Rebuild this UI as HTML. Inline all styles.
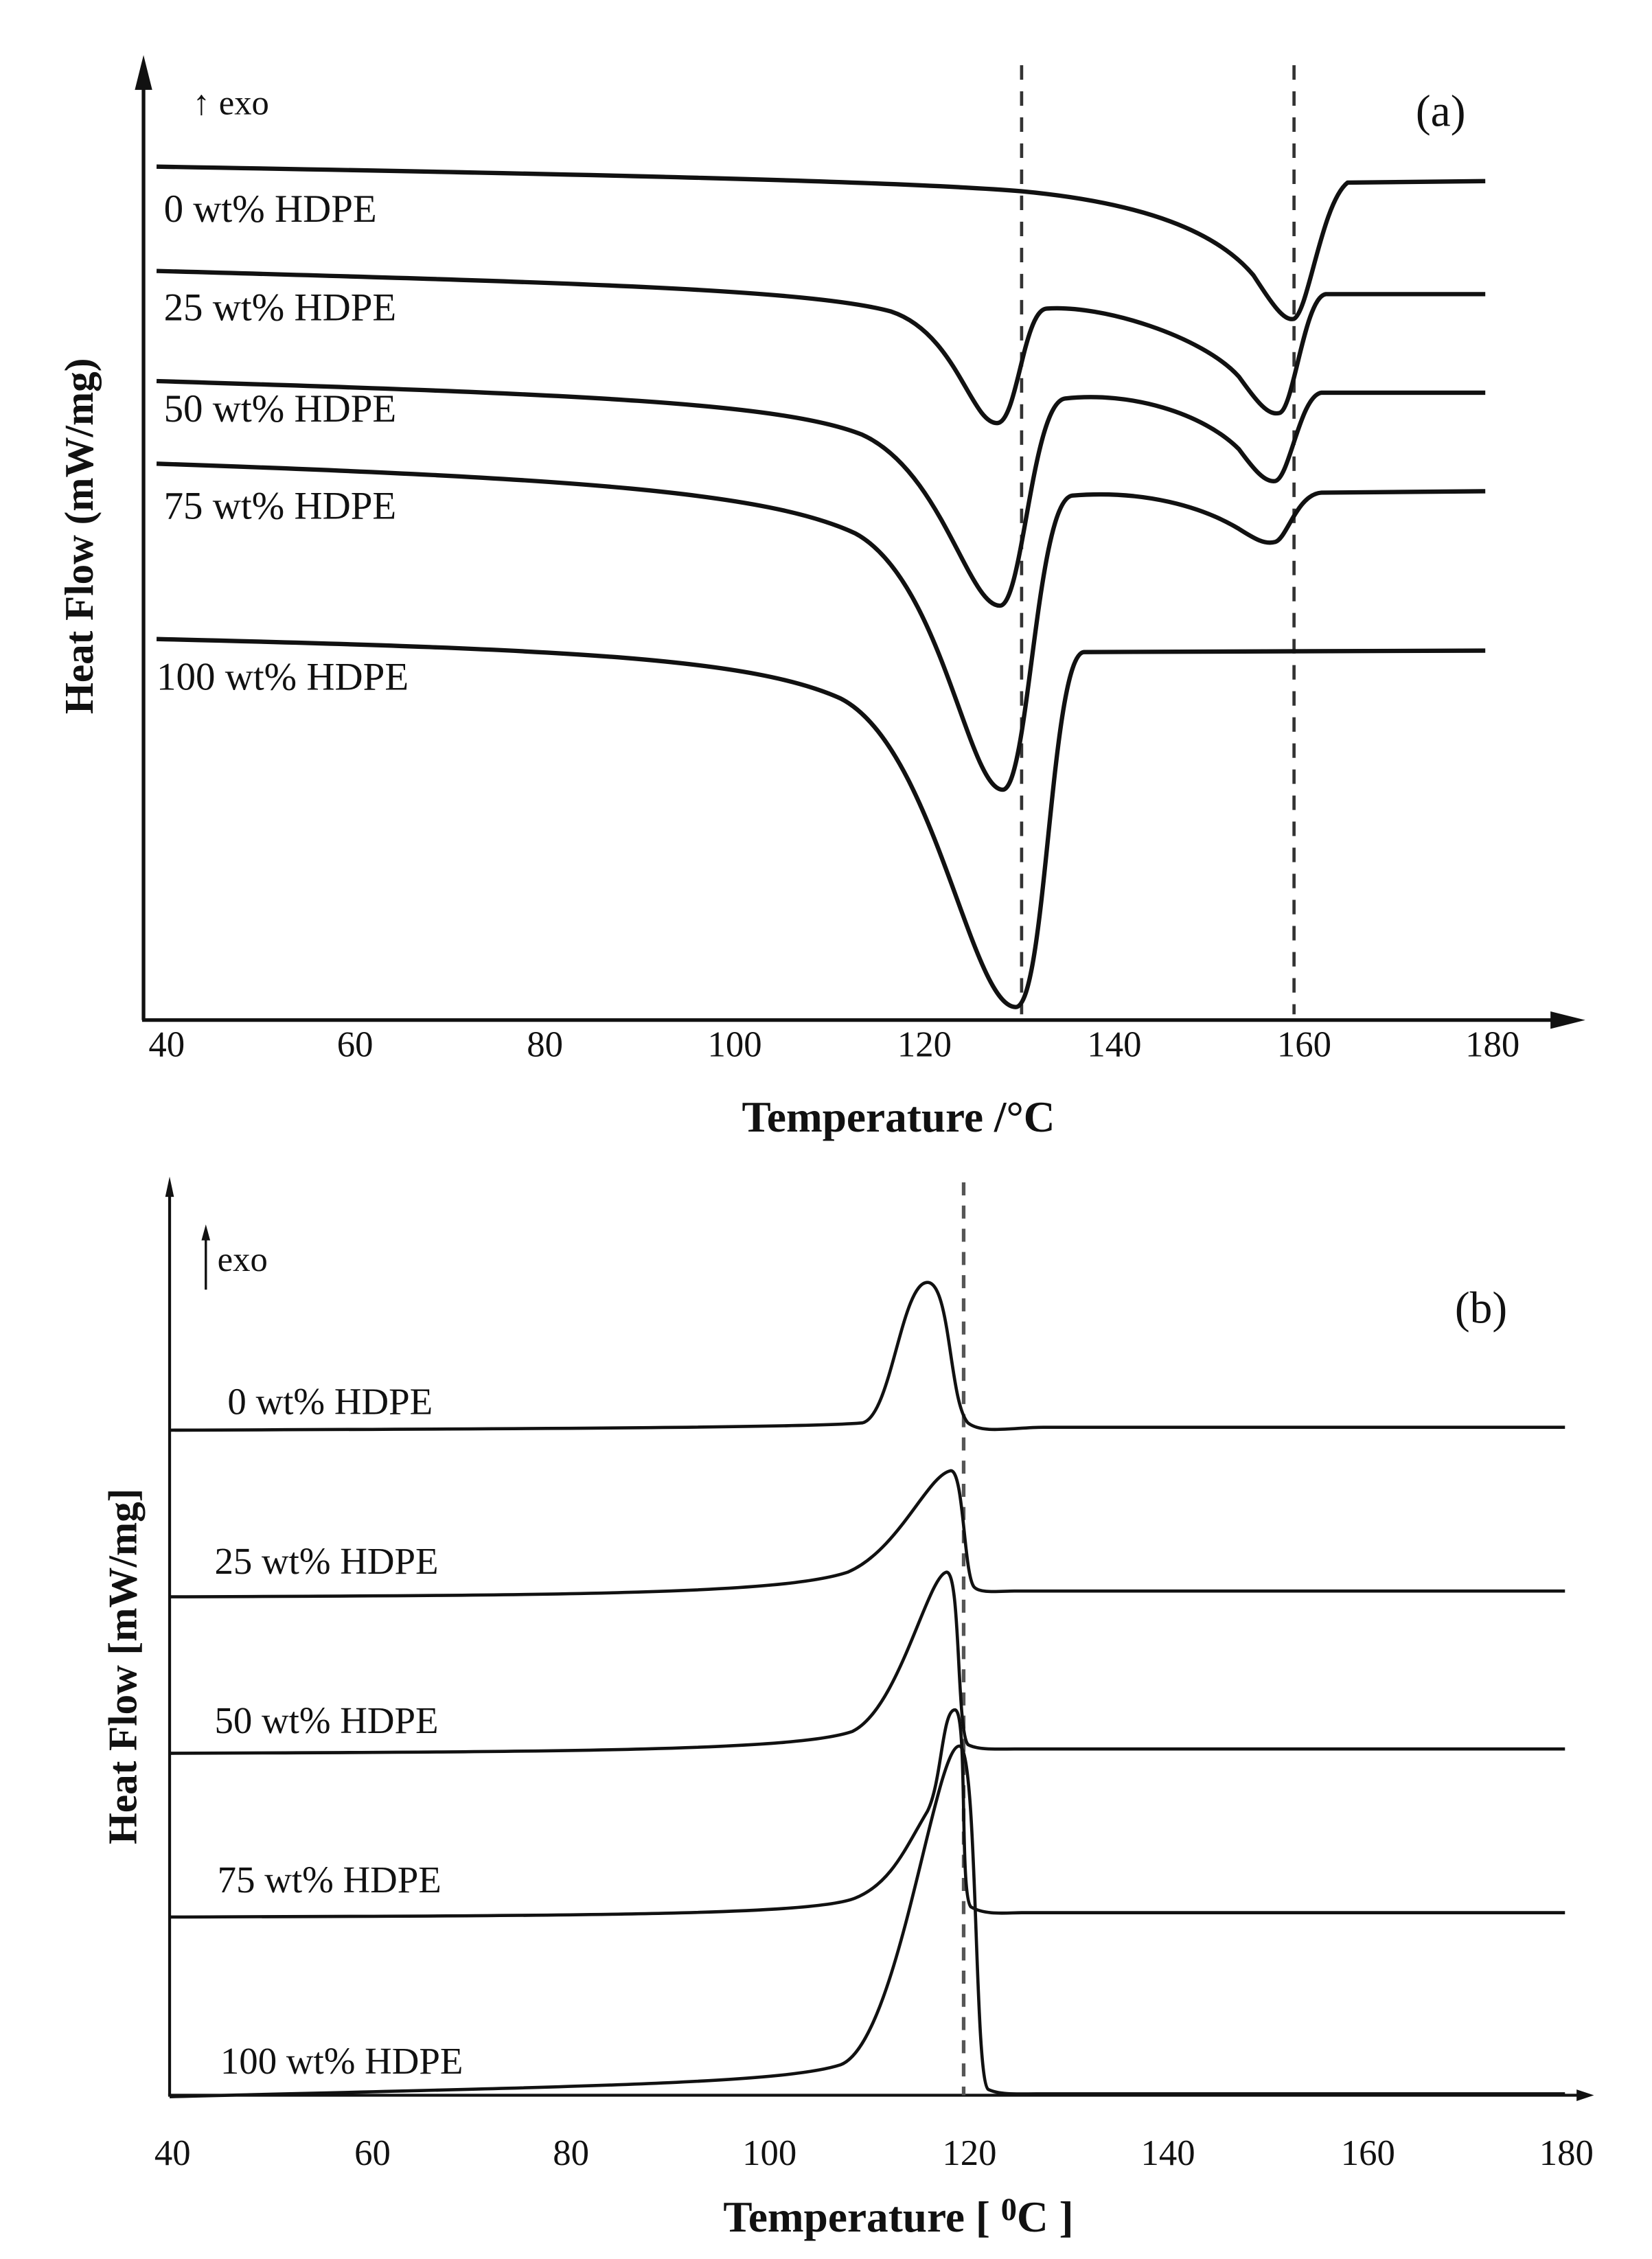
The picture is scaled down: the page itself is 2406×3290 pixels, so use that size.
<!DOCTYPE html>
<html><head><meta charset="utf-8"><style>
html,body{margin:0;padding:0;background:#fff;}
svg{display:block;}
text{font-family:"Liberation Serif",serif;fill:#111;}
</style></head><body>
<svg width="2406" height="3290" viewBox="0 0 1140 1559" xmlns="http://www.w3.org/2000/svg">
<rect width="1140" height="1559" fill="#fff"/>
<!-- Panel (a) -->
<g stroke="#111" fill="none">
<line x1="99" y1="50" x2="99" y2="704" stroke-width="2.5"/>
<line x1="98" y1="704" x2="1080" y2="704" stroke-width="2.5"/>
</g>
<polygon points="99,38 93,62 105,62" fill="#111"/>
<polygon points="1094,704 1070,698 1070,710" fill="#111"/>
<g stroke="#333" stroke-width="2.2" stroke-dasharray="10,8" fill="none">
<line x1="705" y1="45" x2="705" y2="700"/>
<line x1="893" y1="45" x2="893" y2="700"/>
</g>
<g stroke="#111" stroke-width="3" fill="none" stroke-linejoin="round">
<path d="M108,115 C400,120 620,125 705,132 C790,140 840,160 865,190 C878,210 886,222 893,220 C903,215 912,140 930,126 L1025,125"/>
<path d="M108,187 C400,195 560,200 615,215 C660,230 670,292 688,292 C702,292 706,215 722,213 C760,210 830,232 855,260 C868,278 875,287 883,285 C893,282 900,205 915,203 L1025,203"/>
<path d="M108,263 C400,272 540,278 595,300 C650,325 668,418 690,418 C706,418 712,278 735,275 C780,270 830,285 855,310 C866,325 873,333 880,332 C890,330 897,273 912,271 L1025,271"/>
<path d="M108,320 C400,330 530,340 590,368 C650,400 668,545 692,545 C710,545 715,345 740,342 C790,338 830,350 855,365 C866,372 873,376 880,374 C888,372 895,341 912,340 L1025,339"/>
<path d="M108,441 C400,448 520,455 580,482 C645,515 670,695 701,695 C722,695 725,452 748,450 L1025,449"/>
</g>
<g font-size="27">
<text x="113" y="153">0 wt% HDPE</text>
<text x="113" y="221">25 wt% HDPE</text>
<text x="113" y="291">50 wt% HDPE</text>
<text x="113" y="358">75 wt% HDPE</text>
<text x="108" y="476">100 wt% HDPE</text>
<text x="133" y="79" font-size="24">↑ exo</text>
<text x="977" y="87" font-size="31">(a)</text>
</g>
<g font-size="25" text-anchor="middle">
<text x="115" y="729">40</text><text x="245" y="729">60</text><text x="376" y="729">80</text>
<text x="507" y="729">100</text><text x="638" y="729">120</text><text x="769" y="729">140</text>
<text x="900" y="729">160</text><text x="1030" y="729">180</text>
</g>
<text x="620" y="781" font-size="30" font-weight="bold" text-anchor="middle">Temperature /°C</text>
<text transform="translate(64,370) rotate(-90)" font-size="28" font-weight="bold" text-anchor="middle">Heat Flow (mW/mg)</text>

<!-- Panel (b) -->
<g stroke="#111" fill="none" stroke-width="2">
<line x1="117" y1="820" x2="117" y2="1446"/>
<line x1="116" y1="1446" x2="1092" y2="1446"/>
</g>
<polygon points="117,812 114,826 120,826" fill="#111"/>
<polygon points="1100,1446 1088,1442 1088,1450" fill="#111"/>
<line x1="142" y1="890" x2="142" y2="850" stroke="#111" stroke-width="1.6"/>
<polygon points="142,845 139,856 145,856" fill="#111"/>
<line x1="665" y1="816" x2="665" y2="1446" stroke="#555" stroke-width="2.5" stroke-dasharray="9,7"/>
<g stroke="#111" stroke-width="2.2" fill="none" stroke-linejoin="round">
<path d="M117,987 C400,986 560,985 595,982 C615,978 622,885 640,885 C656,885 655,968 668,982 C678,990 700,985 720,985 L1080,985"/>
<path d="M117,1102 C400,1101 540,1100 585,1085 C620,1070 640,1018 656,1015 C665,1014 665,1085 672,1095 C676,1100 690,1098 700,1098 L1080,1098"/>
<path d="M117,1210 C400,1209 550,1208 588,1195 C620,1180 640,1088 653,1085 C663,1083 660,1195 668,1204 C675,1208 690,1207 700,1207 L1080,1207"/>
<path d="M117,1323 C400,1322 560,1322 590,1310 C615,1300 625,1275 640,1250 C650,1230 650,1180 659,1180 C668,1180 662,1308 670,1316 C680,1322 695,1320 705,1320 L1080,1320"/>
<path d="M117,1447 C400,1440 540,1438 580,1425 C620,1410 645,1205 662,1205 C675,1205 672,1435 682,1442 C690,1446 705,1445 715,1445 L1080,1445"/>
</g>
<g font-size="26">
<text x="157" y="976">0  wt% HDPE</text>
<text x="148" y="1086">25 wt% HDPE</text>
<text x="148" y="1196">50 wt% HDPE</text>
<text x="150" y="1306">75 wt% HDPE</text>
<text x="152" y="1431">100 wt% HDPE</text>
<text x="150" y="877" font-size="24">exo</text>
<text x="1004" y="913" font-size="31">(b)</text>
</g>
<g font-size="25" text-anchor="middle">
<text x="119" y="1494">40</text><text x="257" y="1494">60</text><text x="394" y="1494">80</text>
<text x="531" y="1494">100</text><text x="669" y="1494">120</text><text x="806" y="1494">140</text>
<text x="944" y="1494">160</text><text x="1081" y="1494">180</text>
</g>
<text x="620" y="1540" font-size="30" font-weight="bold" text-anchor="middle">Temperature [ <tspan font-size="22" dy="-8">0</tspan><tspan dy="8">C ]</tspan></text>
<text transform="translate(94,1150) rotate(-90)" font-size="28" font-weight="bold" text-anchor="middle">Heat Flow [mW/mg]</text>
</svg>
</body></html>
